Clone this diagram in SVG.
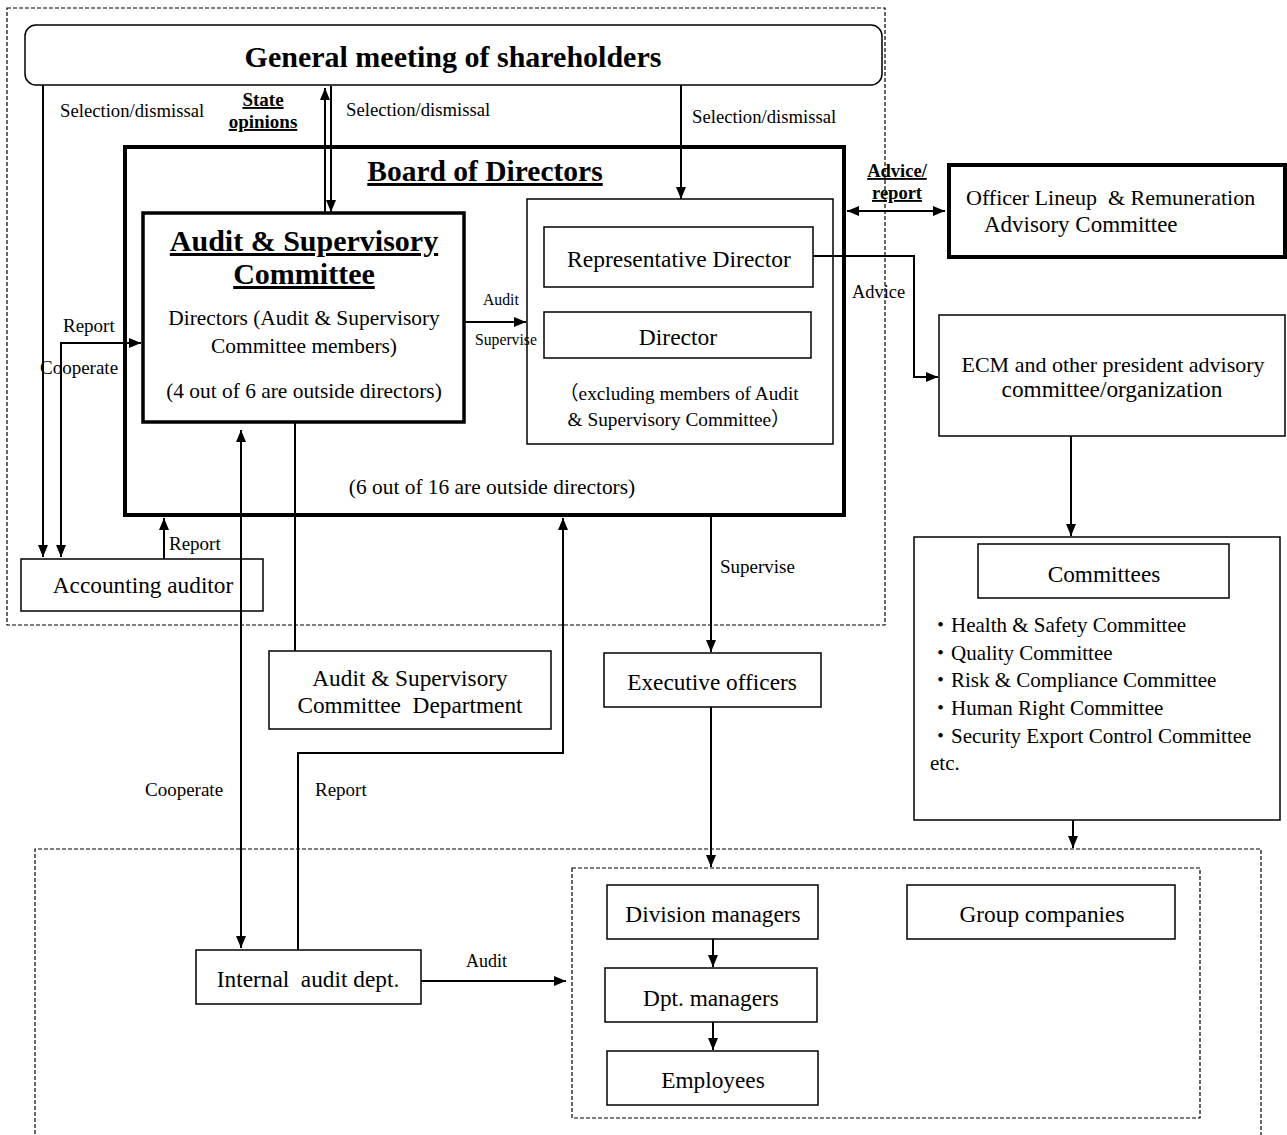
<svg xmlns="http://www.w3.org/2000/svg" width="1287" height="1135" viewBox="0 0 1287 1135">
<style>
text{font-family:"Liberation Serif","Noto Sans CJK JP",serif;fill:#000}
.box{fill:#fff;stroke:#000;stroke-width:1.5}
.thick{fill:#fff;stroke:#000;stroke-width:4}
.dash{fill:none;stroke:#000;stroke-width:1.2;stroke-dasharray:4,2}
.c{fill:none;stroke:#000;stroke-width:2}
.n{font-size:23.3px}
.d{font-size:21.4px}
.l{font-size:19px}
.s{font-size:15.7px}
.b{font-weight:bold;text-decoration:underline}
.m{text-anchor:middle}
</style>
<defs>
<marker id="ah" viewBox="0 0 12 10" refX="12" refY="5" markerWidth="12" markerHeight="10" orient="auto-start-reverse" markerUnits="userSpaceOnUse"><path d="M0,0 L12,5 L0,10 z" fill="#000"/></marker>
</defs>
<rect width="1287" height="1135" fill="#fff"/>
<g id="regions">
<rect class="dash" x="7" y="8" width="878" height="617"/>
<path class="dash" d="M35,1140 V849 H1261 V1140"/>
<rect class="dash" x="572" y="868" width="628" height="250"/>
</g>
<g id="gm">
<rect class="box" x="25" y="25" width="857" height="60" rx="11"/>
<text x="453" y="67" class="m" font-size="30" font-weight="bold">General meeting of shareholders</text>
</g>
<g id="board">
<rect class="thick" x="125" y="147" width="719" height="368"/>
<text x="485" y="181" class="m b" font-size="29.5">Board of Directors</text>
<text x="492" y="494" class="m d">(6 out of 16 are outside directors)</text>
</g>
<g id="asc">
<rect x="143" y="213" width="321" height="209" fill="#fff" stroke="#000" stroke-width="3.5"/>
<text x="304" y="251" class="m b" font-size="30">Audit &amp; Supervisory</text>
<text x="304" y="284" class="m b" font-size="30">Committee</text>
<text x="304" y="325" class="m d">Directors (Audit &amp; Supervisory</text>
<text x="304" y="353" class="m d">Committee members)</text>
<text x="304" y="398" class="m d">(4 out of 6 are outside directors)</text>
</g>
<g id="directors">
<rect class="box" x="527" y="199" width="306" height="245"/>
<text x="679" y="400" class="m" font-size="19.3">（excluding members of Audit</text>
<text x="679" y="426" class="m" font-size="19.3">&amp; Supervisory Committee）</text>
</g>
<g id="repdir">
<rect class="box" x="544" y="227" width="269" height="60"/>
<text x="679" y="267" class="m" font-size="23.5">Representative Director</text>
</g>
<g id="director">
<rect class="box" x="544" y="312" width="267" height="46"/>
<text x="678" y="345" class="m" font-size="23.5">Director</text>
</g>
<g id="officer">
<rect class="thick" x="949" y="165" width="336" height="92"/>
<text x="966" y="205" font-size="22" xml:space="preserve">Officer Lineup  &amp; Remuneration</text>
<text x="984" y="232" font-size="23">Advisory Committee</text>
</g>
<g id="ecm">
<rect class="box" x="939" y="315" width="346" height="121"/>
<text x="1113" y="372" class="m" font-size="22">ECM and other president advisory</text>
<text x="1112" y="397" class="m n">committee/organization</text>
</g>
<g id="committees">
<rect class="box" x="914" y="537" width="366" height="283"/>
<rect class="box" x="978" y="544" width="251" height="54"/>
<text x="1104" y="582" class="m n">Committees</text>
<text x="930" y="632" font-size="21">・Health &amp; Safety Committee</text>
<text x="930" y="660" font-size="21">・Quality Committee</text>
<text x="930" y="687" font-size="21">・Risk &amp; Compliance Committee</text>
<text x="930" y="715" font-size="21">・Human Right Committee</text>
<text x="930" y="743" font-size="21">・Security Export Control Committee</text>
<text x="930" y="770" font-size="21">etc.</text>
</g>
<g id="accounting">
<rect class="box" x="21" y="559" width="242" height="52"/>
<text x="143" y="593" class="m n">Accounting auditor</text>
</g>
<g id="ascdept">
<rect class="box" x="269" y="651" width="282" height="78"/>
<text x="410" y="686" class="m n">Audit &amp; Supervisory</text>
<text x="410" y="713" class="m n" xml:space="preserve">Committee  Department</text>
</g>
<g id="exec">
<rect class="box" x="604" y="653" width="217" height="54"/>
<text x="712" y="690" class="m n">Executive officers</text>
</g>
<g id="internal">
<rect class="box" x="196" y="950" width="225" height="54"/>
<text x="308" y="987" class="m n" xml:space="preserve">Internal  audit dept.</text>
</g>
<g id="divmgr">
<rect class="box" x="607" y="885" width="211" height="54"/>
<text x="713" y="922" class="m n">Division managers</text>
</g>
<g id="dptmgr">
<rect class="box" x="605" y="968" width="212" height="54"/>
<text x="711" y="1006" class="m n">Dpt. managers</text>
</g>
<g id="employees">
<rect class="box" x="607" y="1051" width="211" height="54"/>
<text x="713" y="1088" class="m n">Employees</text>
</g>
<g id="group">
<rect class="box" x="907" y="885" width="268" height="54"/>
<text x="1042" y="922" class="m n">Group companies</text>
</g>
<g id="connectors">
<path class="c" d="M43,85 V557" marker-end="url(#ah)"/>
<path class="c" d="M61,557 V343 H141" marker-start="url(#ah)" marker-end="url(#ah)"/>
<path class="c" d="M325,212 V88" marker-end="url(#ah)"/>
<path class="c" d="M331,86 V212" marker-end="url(#ah)"/>
<path class="c" d="M681,85 V199" marker-end="url(#ah)"/>
<path class="c" d="M465,322 H526" stroke-width="3" marker-end="url(#ah)"/>
<path class="c" d="M847,211 H945" marker-start="url(#ah)" marker-end="url(#ah)"/>
<path class="c" d="M813,256 H914 V377 H938" marker-end="url(#ah)"/>
<path class="c" d="M1071,436 V536" marker-end="url(#ah)"/>
<path class="c" d="M1073,820 V848" marker-end="url(#ah)"/>
<path class="c" d="M164,559 V518" marker-end="url(#ah)"/>
<path class="c" d="M241,430 V948" marker-start="url(#ah)" marker-end="url(#ah)"/>
<path class="c" d="M295,423 V651"/>
<path class="c" d="M298,950 V753 H563 V518" marker-end="url(#ah)"/>
<path class="c" d="M711,517 V652" marker-end="url(#ah)"/>
<path class="c" d="M711,707 V867" marker-end="url(#ah)"/>
<path class="c" d="M421,981 H566" marker-end="url(#ah)"/>
<path class="c" d="M713,939 V967" marker-end="url(#ah)"/>
<path class="c" d="M713,1022 V1050" marker-end="url(#ah)"/>
</g>
<g id="labels">
<text x="60" y="117" font-size="18.7">Selection/dismissal</text>
<text x="263" y="106" class="m b" font-size="19">State</text>
<text x="263" y="128" class="m b" font-size="19">opinions</text>
<text x="346" y="116" font-size="18.7">Selection/dismissal</text>
<text x="692" y="123" font-size="18.7">Selection/dismissal</text>
<text x="897" y="177" class="m b" font-size="18.5">Advice/</text>
<text x="897" y="199" class="m b" font-size="18.5">report</text>
<text x="852" y="298" font-size="18.4">Advice</text>
<text x="483" y="305" class="s">Audit</text>
<text x="475" y="345" class="s">Supervise</text>
<text x="63" y="332" class="l">Report</text>
<text x="40" y="374" class="l">Cooperate</text>
<text x="169" y="550" class="l">Report</text>
<text x="720" y="573" class="l">Supervise</text>
<text x="145" y="796" class="l">Cooperate</text>
<text x="315" y="796" class="l">Report</text>
<text x="466" y="967" font-size="18">Audit</text>
</g>
</svg>
